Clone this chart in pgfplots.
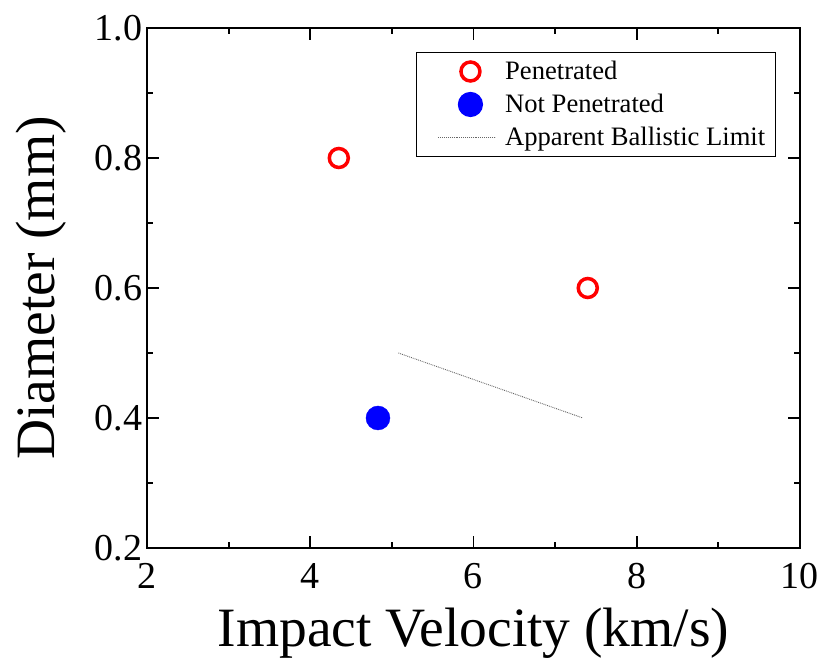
\documentclass[border=0pt]{standalone}
\usepackage{fontspec}
\setmainfont{Liberation Serif}
\usepackage{pgfplots}
\pgfplotsset{compat=1.18}
\pgfplotsset{
  marklegend/.style={legend image code/.code={%
    \draw[##1] plot coordinates {(44pt,0pt)};\path (0pt,0pt) (75pt,0pt);}},
  linelegend/.style={legend image code/.code={%
    \draw[##1] (12pt,0pt) -- (69pt,0pt);\path (0pt,0pt) (75pt,0pt);}},
}

\begin{document}
\begin{tikzpicture}
\begin{axis}[
  scale only axis,
  width=653pt, height=520pt,
  xmin=2, xmax=10, ymin=0.2, ymax=1.0,
  xtick={2,4,6,8,10}, ytick={0.2,0.4,0.6,0.8,1.0},
  minor tick num=1,
  tick align=inside,
  major tick length=12pt, minor tick length=6pt,
  every tick/.style={line width=1.8pt, black},
  axis line style={line width=2.4pt},
  /pgf/number format/assume math mode=true,
  /pgf/number format/fixed,
  /pgf/number format/fixed zerofill,
  /pgf/number format/precision=1,
  xticklabel={\pgfmathprintnumber[fixed,precision=0]{\tick}},
  tick label style={font=\fontsize{38}{40}\selectfont},
  xticklabel style={yshift=-12pt},
  yticklabel style={xshift=-1pt},
  xlabel={Impact Velocity (km/s)},
  ylabel={Diameter (mm)},
  label style={font=\fontsize{55.5}{60}\selectfont},
  xlabel style={yshift=-12pt},
  ylabel style={yshift=22pt},
  legend style={at={(rel axis cs:0.963,0.954)}, anchor=north east,
    font=\fontsize{26.6}{29}\selectfont, draw=black, line width=1.2pt,
    row sep=9pt, inner xsep=8pt, inner ysep=7pt},
  legend cell align=left,
]
\addplot[only marks, mark=o, mark size=9.5pt, draw=red, line width=3.5pt, marklegend]
  coordinates {(4.35,0.8) (7.40,0.6)};
\addlegendentry{Penetrated}
\addplot[only marks, mark=*, mark size=12pt, draw=blue, fill=blue, marklegend]
  coordinates {(4.83,0.4)};
\addlegendentry{Not Penetrated}
\addplot[black!60, densely dotted, line width=0.9pt, linelegend]
  coordinates {(5.08,0.5) (7.34,0.4)};
\addlegendentry{Apparent Ballistic Limit}
\end{axis}
\pgfresetboundingbox
\path[use as bounding box] (current axis.south west) ++(-147pt,-115pt) rectangle ++(822pt,663pt);
\end{tikzpicture}
\end{document}
